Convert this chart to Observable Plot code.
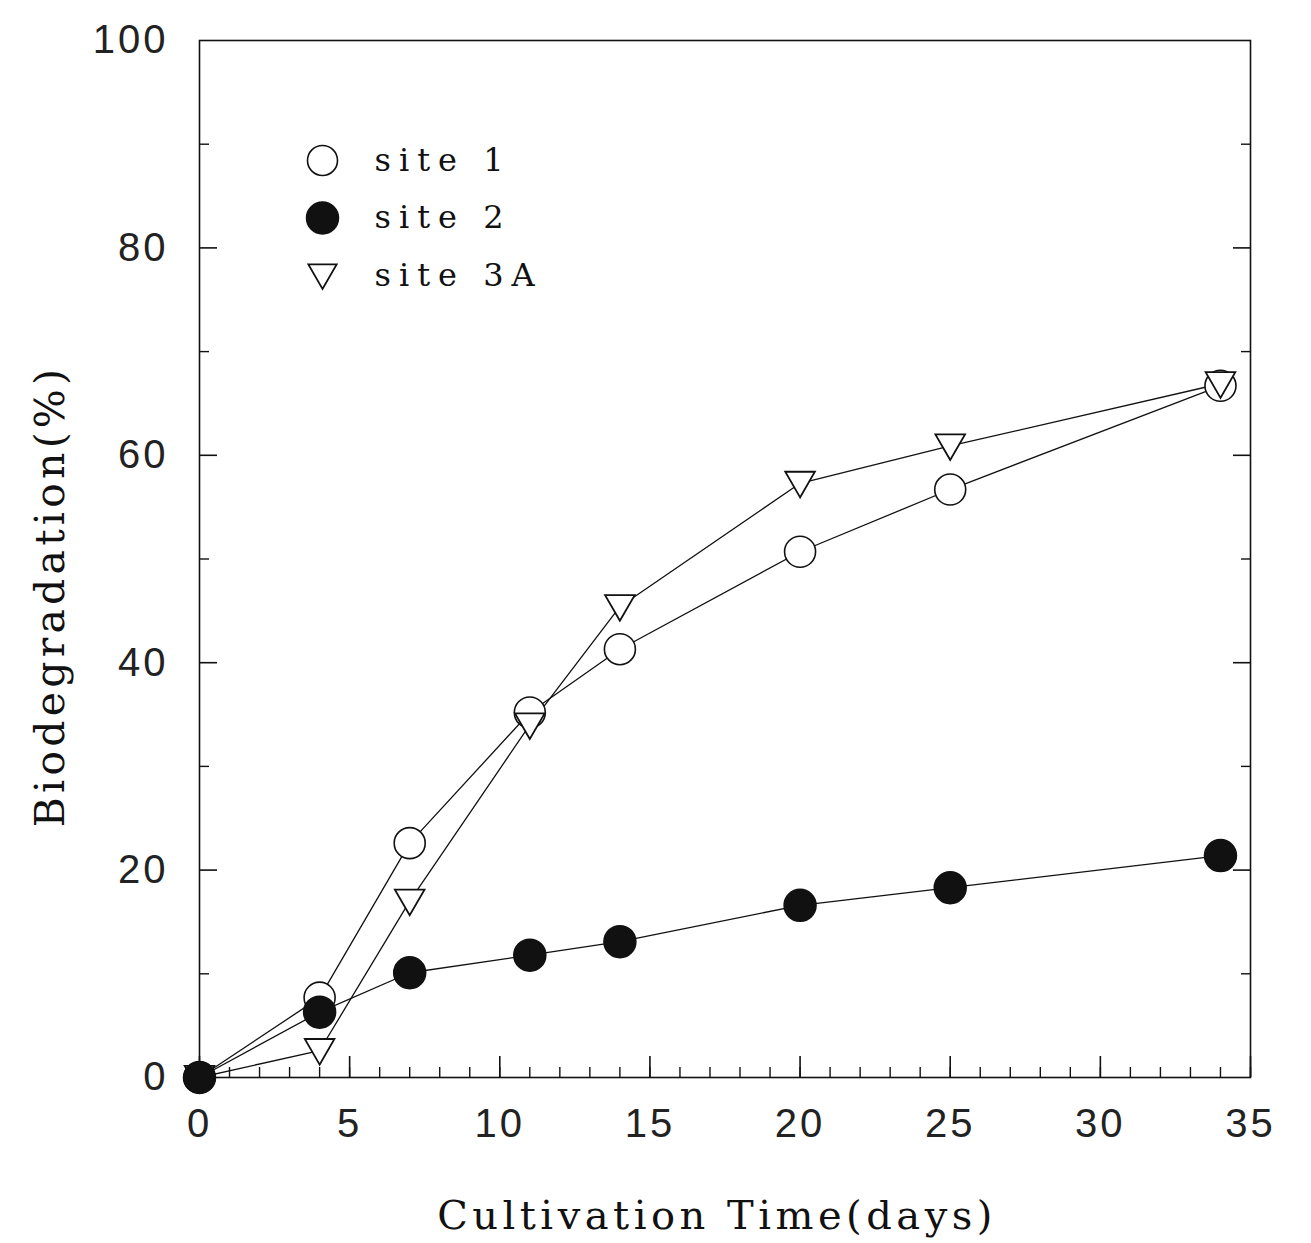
<!DOCTYPE html>
<html>
<head>
<meta charset="utf-8">
<script src="https://cdn.jsdelivr.net/npm/d3@7"></script>
<script src="https://cdn.jsdelivr.net/npm/@observablehq/plot@0.6"></script>
<style>
  html, body { margin: 0; padding: 0; background: #fff; }
  #chart svg { display: block; }
</style>
</head>
<body>
<div id="chart"></div>
<script>
// Data
const days = [0, 4, 7, 11, 14, 20, 25, 34];
const site1 = [0, 7.7, 22.6, 35.2, 41.3, 50.7, 56.7, 66.7];
const site2 = [0, 6.3, 10.1, 11.8, 13.1, 16.6, 18.3, 21.4];
const site3A = [0, 2.6, 17.0, 34.0, 45.4, 57.3, 60.9, 66.9];

const legendLabels = ["site 1", "site 2", "site 3A"];
const xTickLabels = [0, 5, 10, 15, 20, 25, 30, 35];
const yTickLabels = [0, 20, 40, 60, 80, 100];
const xMinorTicks = d3.range(0, 36, 1);
const yMinorTicks = [10, 30, 50, 70, 90];
const yMajorTicks = [20, 40, 60, 80];

const xTitle = "Cultivation Time(days)";
const yTitle = "Biodegradation(%)";

const rows = (vals) => days.map((d, i) => ({day: d, value: vals[i]}));
const s1 = rows(site1), s2 = rows(site2), s3 = rows(site3A);

const ink = "#111";
const tickFont = "Liberation Sans, Arial, sans-serif";
const serif = "DejaVu Serif, serif";

const rowGap = 57.5;
const legendDot = (i, opts) => Plot.dot([0], {
  frameAnchor: "top-left", dx: 123, dy: 120 + i * rowGap, ...opts
});
const legendText = (i) => Plot.text([legendLabels[i]], {
  frameAnchor: "top-left", text: d => d,
  dx: 175, dy: 120 + i * rowGap,
  textAnchor: "start", lineAnchor: "middle",
  fontSize: 32, fontFamily: serif, fill: ink
});

const chart = Plot.plot({
  width: 1311,
  height: 1243,
  marginLeft: 199,
  marginRight: 61,
  marginTop: 40,
  marginBottom: 166,
  x: {domain: [0, 35]},
  y: {domain: [0, 100]},
  style: {background: "#fff", color: ink},
  marks: [
    Plot.frame({stroke: ink, strokeWidth: 1.6}),
    // tick labels
    Plot.axisX(xTickLabels, {anchor: "bottom", tickSize: 0, tickPadding: 31, fontSize: 40, fontFamily: tickFont, fill: "#222", label: null}),
    Plot.axisY(yTickLabels, {anchor: "left", tickSize: 0, tickPadding: 31, fontSize: 40, fontFamily: tickFont, fill: "#222", label: null}),
    // inward ticks
    Plot.axisX(xMinorTicks, {anchor: "bottom", tickSize: -10, text: null, label: null, stroke: ink, strokeWidth: 1.4}),
    Plot.axisX(xTickLabels, {anchor: "bottom", tickSize: -21, text: null, label: null, stroke: ink, strokeWidth: 1.6}),
    Plot.axisY(yMinorTicks, {anchor: "left", tickSize: -10, text: null, label: null, stroke: ink, strokeWidth: 1.4}),
    Plot.axisY(yMajorTicks, {anchor: "left", tickSize: -18, text: null, label: null, stroke: ink, strokeWidth: 1.6}),
    Plot.axisY(yMinorTicks, {anchor: "right", tickSize: -10, text: null, label: null, stroke: ink, strokeWidth: 1.4}),
    Plot.axisY(yMajorTicks, {anchor: "right", tickSize: -18, text: null, label: null, stroke: ink, strokeWidth: 1.6}),
    // series lines
    Plot.line(s1, {x: "day", y: "value", stroke: ink, strokeWidth: 1.3}),
    Plot.line(s3, {x: "day", y: "value", stroke: ink, strokeWidth: 1.3}),
    Plot.line(s2, {x: "day", y: "value", stroke: ink, strokeWidth: 1.3}),
    // markers
    Plot.dot(s1, {x: "day", y: "value", r: 15.5, fill: "#fff", stroke: ink, strokeWidth: 1.6}),
    Plot.dot(s3, {x: "day", y: "value", symbol: "triangle", rotate: 180, r: 11, dy: -3, fill: "#fff", stroke: ink, strokeWidth: 1.8}),
    Plot.dot(s2, {x: "day", y: "value", r: 16, fill: ink, stroke: ink}),
    // legend
    legendDot(0, {r: 15, fill: "#fff", stroke: ink, strokeWidth: 1.6}),
    legendDot(1, {r: 16, fill: ink, stroke: ink}),
    Plot.dot([0], {frameAnchor: "top-left", dx: 123, dy: 117 + 2 * rowGap, symbol: "triangle", rotate: 180, r: 10.5, fill: "#fff", stroke: ink, strokeWidth: 1.8}),
    legendText(0),
    legendText(1),
    legendText(2),
    // axis titles
    Plot.text([xTitle], {
      frameAnchor: "bottom", text: d => d, dx: -8, dy: 139,
      textAnchor: "middle", lineAnchor: "middle", fontSize: 40, fontFamily: serif, fill: ink
    }),
    Plot.text([yTitle], {
      frameAnchor: "left", text: d => d, dx: -149, dy: 37,
      rotate: -90, textAnchor: "middle", lineAnchor: "middle", fontSize: 41, fontFamily: serif, fill: ink
    })
  ]
});

// letter spacing (not a Plot text option), applied to the rendered text
const spacing = new Map([
  [xTitle, 4.5], [yTitle, 4.2],
  ...legendLabels.map(l => [l, 8]),
  ...xTickLabels.map(v => [String(v), 3]),
  ...yTickLabels.map(v => [String(v), 3])
]);
d3.select(chart).selectAll("text").each(function() {
  const s = spacing.get(this.textContent);
  if (s != null) this.setAttribute("letter-spacing", s);
});

document.getElementById("chart").appendChild(chart);
</script>
</body>
</html>
